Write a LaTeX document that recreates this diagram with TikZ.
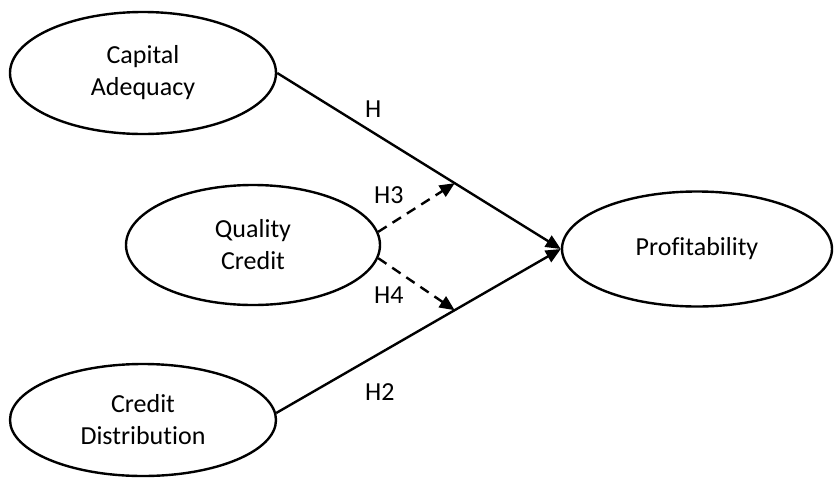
\documentclass[tikz,border=0pt]{standalone}
\usepackage{fontspec}
\setmainfont{Carlito}[Ligatures=NoCommon]
\usepackage{tikz}
\usetikzlibrary{positioning,arrows.meta,calc,shapes.geometric}
\newcommand{\bigtext}{\fontsize{26}{32}\selectfont}
\tikzset{
 construct/.style={draw, ellipse, line width=2.4pt, inner sep=0pt, align=center, font=\bigtext},
 link/.style={line width=2.4pt, -{Triangle[length=15pt,width=13pt]}},
 moderate/.style={link, dash pattern=on 10pt off 7pt},
 hlabel/.style={anchor=west, inner sep=0pt, font=\bigtext}
}

\begin{document}
\begin{tikzpicture}[x=1pt,y=-1pt]
\useasboundingbox (0,0) rectangle (835,480);
\node[construct, minimum width=266pt, minimum height=122pt] (cap) at (143,73) {Capital\\Adequacy};
\node[construct, minimum width=254pt, minimum height=120pt] (qual) at (253,245) {Quality\\Credit};
\node[construct, minimum width=266pt, minimum height=112pt] (dist) at (143,420) {Credit\\Distribution};
\node[construct, minimum width=270pt, minimum height=115pt] (prof) at (697,249) {Profitability};
\draw[link] (cap.east) -- (prof.west);
\draw[link] (dist.3) -- (prof.west);
% where the moderating paths meet the direct paths
\coordinate (m1) at ($(cap.east)!0.626!(prof.west)$);
\coordinate (m2) at ($(dist.3)!0.627!(prof.west)$);
\draw[moderate] (qual.6) -- (m1);
\draw[moderate] (qual.-6) -- (m2);
\node[hlabel] (h1) at (365,109) {H};
\node[hlabel] (h3) at (374,195) {H3};
\node[hlabel] (h4) at (374,295) {H4};
\node[hlabel] (h2) at (365,392) {H2};
\end{tikzpicture}
\end{document}
